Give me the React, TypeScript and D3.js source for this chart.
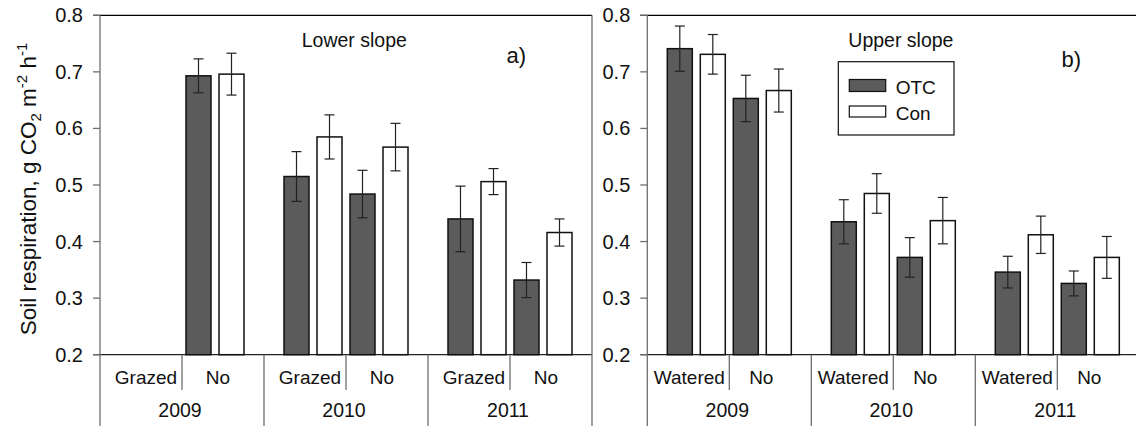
import React from 'react';
import * as d3 from 'd3';

// Categories
const years = ['2009', '2010', '2011'];
const lowerTreatments = ['Grazed', 'No'];
const upperTreatments = ['Watered', 'No'];
const yTicks = [0.2, 0.3, 0.4, 0.5, 0.6, 0.7, 0.8];

// Soil respiration means and standard errors, one entry per year x treatment
// (2009 Grazed, 2009 No, 2010 Grazed, 2010 No, 2011 Grazed, 2011 No)
const lowerOtc: (number | null)[] = [null, 0.693, 0.515, 0.484, 0.44, 0.332];
const lowerOtcSe: (number | null)[] = [null, 0.03, 0.044, 0.042, 0.058, 0.031];
const lowerCon: (number | null)[] = [null, 0.696, 0.585, 0.567, 0.506, 0.416];
const lowerConSe: (number | null)[] = [null, 0.037, 0.039, 0.042, 0.023, 0.024];

// (2009 Watered, 2009 No, 2010 Watered, 2010 No, 2011 Watered, 2011 No)
const upperOtc: (number | null)[] = [0.741, 0.653, 0.435, 0.372, 0.346, 0.326];
const upperOtcSe: (number | null)[] = [0.04, 0.041, 0.039, 0.035, 0.028, 0.022];
const upperCon: (number | null)[] = [0.731, 0.667, 0.485, 0.437, 0.412, 0.372];
const upperConSe: (number | null)[] = [0.035, 0.038, 0.035, 0.041, 0.033, 0.037];

const FONT = '"Liberation Sans", Arial, Helvetica, sans-serif';
const OTC_FILL = '#5b5b5b';
const AXIS_GRAY = '#6e6e6e';

const TOP = 15.3;
const BASE = 354.7;
const BOTTOM = 426;
const PANEL_W = 492;

type PanelProps = {
  left: number;
  treatments: string[];
  otc: (number | null)[];
  otcSe: (number | null)[];
  con: (number | null)[];
  conSe: (number | null)[];
  title: string;
  titleX: number;
  letter: string;
  letterX: number;
  letterY: number;
  labelShift: [number, number];
  rightBorder: boolean;
};

function Panel(p: PanelProps) {
  const y = d3.scaleLinear().domain([0.2, 0.8]).range([BASE, TOP]);
  const xYear = d3.scaleBand<string>().domain(years).range([p.left, p.left + PANEL_W]);
  const bw = xYear.bandwidth();
  const xSlot = d3
    .scaleBand<number>()
    .domain([0, 1, 2, 3])
    .range([0, bw])
    .paddingInner(8 / 33)
    .paddingOuter(20 / 33);
  const right = p.left + PANEL_W;

  const bars: JSX.Element[] = [];
  years.forEach((yr, yi) => {
    [0, 1].forEach((ti) => {
      const idx = yi * 2 + ti;
      const series = [
        { v: p.otc[idx], se: p.otcSe[idx], fill: OTC_FILL, slot: ti * 2 },
        { v: p.con[idx], se: p.conSe[idx], fill: '#ffffff', slot: ti * 2 + 1 },
      ];
      series.forEach((s, si) => {
        if (s.v == null) return;
        const x0 = (xYear(yr) as number) + (xSlot(s.slot) as number);
        const w = xSlot.bandwidth();
        const cx = x0 + w / 2;
        const se = s.se ?? 0;
        bars.push(
          <g key={`${yr}-${ti}-${si}`}>
            <rect
              x={x0}
              y={y(s.v)}
              width={w}
              height={BASE - y(s.v)}
              fill={s.fill}
              stroke="#111"
              strokeWidth={1.5}
            />
            <line x1={cx} x2={cx} y1={y(s.v + se)} y2={y(s.v - se)} stroke="#222" strokeWidth={1.2} />
            <line x1={cx - 5} x2={cx + 5} y1={y(s.v + se)} y2={y(s.v + se)} stroke="#222" strokeWidth={1.2} />
            <line x1={cx - 5} x2={cx + 5} y1={y(s.v - se)} y2={y(s.v - se)} stroke="#222" strokeWidth={1.2} />
          </g>
        );
      });
    });
  });

  return (
    <g>
      {/* frame: top line, baseline, y axis */}
      <line x1={p.left - 7} x2={right} y1={TOP} y2={TOP} stroke="#000" strokeWidth={1.3} />
      <line x1={p.left - 7} x2={right} y1={BASE} y2={BASE} stroke="#222" strokeWidth={1.3} />
      <line x1={p.left} x2={p.left} y1={TOP} y2={BOTTOM} stroke={AXIS_GRAY} strokeWidth={1.3} />
      {p.rightBorder && (
        <line x1={right} x2={right} y1={TOP} y2={BOTTOM} stroke={AXIS_GRAY} strokeWidth={1.3} />
      )}
      {yTicks.map((t) => (
        <g key={t}>
          <line x1={p.left - 7} x2={p.left} y1={y(t)} y2={y(t)} stroke={AXIS_GRAY} strokeWidth={1.3} />
          <text
            x={p.left - 17}
            y={y(t)}
            dy="0.35em"
            textAnchor="end"
            fontSize={20}
            fontFamily={FONT}
            fill="#111"
          >
            {t.toFixed(1)}
          </text>
        </g>
      ))}
      {bars}
      {/* category axis */}
      {years.map((yr, yi) => {
        const gx = xYear(yr) as number;
        return (
          <g key={yr}>
            {yi > 0 && (
              <line x1={gx} x2={gx} y1={BASE} y2={BOTTOM} stroke={AXIS_GRAY} strokeWidth={1.3} />
            )}
            <line x1={gx + bw / 2} x2={gx + bw / 2} y1={BASE} y2={390} stroke={AXIS_GRAY} strokeWidth={1.3} />
            {p.treatments.map((tr, ti) => (
              <text
                key={tr}
                x={gx + bw / 4 + (ti * bw) / 2 + p.labelShift[ti]}
                y={384}
                textAnchor="middle"
                fontSize={19}
                fontFamily={FONT}
                fill="#111"
              >
                {tr}
              </text>
            ))}
            <text x={gx + bw / 2 - 2} y={416.5} textAnchor="middle" fontSize={19.5} fontFamily={FONT} fill="#111">
              {yr}
            </text>
          </g>
        );
      })}
      <text x={p.titleX} y={46.5} fontSize={19.5} fontFamily={FONT} fill="#111">
        {p.title}
      </text>
      <text x={p.letterX} y={p.letterY} fontSize={22} fontFamily={FONT} fill="#111">
        {p.letter}
      </text>
    </g>
  );
}

export default function App() {
  return (
    <svg
      width={1136}
      height={426}
      style={{ position: 'absolute', left: 0, top: 0, background: '#fff' }}
    >
      <rect width={1136} height={426} fill="#fff" />
      <text
        transform="translate(35.5,189) rotate(-90)"
        textAnchor="middle"
        fontSize={22.5}
        fontFamily={FONT}
        fill="#111"
      >
        Soil respiration, g CO
        <tspan fontSize={15} dy={5}>2</tspan>
        <tspan dy={-5}> m</tspan>
        <tspan fontSize={15} dy={-9}>-2</tspan>
        <tspan dy={9}> h</tspan>
        <tspan fontSize={15} dy={-9}>-1</tspan>
      </text>
      <Panel
        left={100}
        treatments={lowerTreatments}
        otc={lowerOtc}
        otcSe={lowerOtcSe}
        con={lowerCon}
        conSe={lowerConSe}
        title="Lower slope"
        titleX={301.7}
        letter="a)"
        letterX={506.5}
        letterY={63}
        labelShift={[5, -5]}
        rightBorder={true}
      />
      <Panel
        left={647.3}
        treatments={upperTreatments}
        otc={upperOtc}
        otcSe={upperOtcSe}
        con={upperCon}
        conSe={upperConSe}
        title="Upper slope"
        titleX={848.3}
        letter="b)"
        letterX={1061.5}
        letterY={67}
        labelShift={[1, -9]}
        rightBorder={false}
      />
      {/* legend */}
      <g>
        <rect x={838.3} y={61.7} width={115.7} height={73.3} fill="#fff" stroke="#111" strokeWidth={1.2} />
        <rect x={849.3} y={79.5} width={36.4} height={12} fill={OTC_FILL} stroke="#111" strokeWidth={1.2} />
        <rect x={849.3} y={106} width={36.4} height={11} fill="#fff" stroke="#111" strokeWidth={1.2} />
        <text x={895.7} y={94} fontSize={19} fontFamily={FONT} fill="#111">
          OTC
        </text>
        <text x={895.7} y={120} fontSize={19} fontFamily={FONT} fill="#111">
          Con
        </text>
      </g>
    </svg>
  );
}
